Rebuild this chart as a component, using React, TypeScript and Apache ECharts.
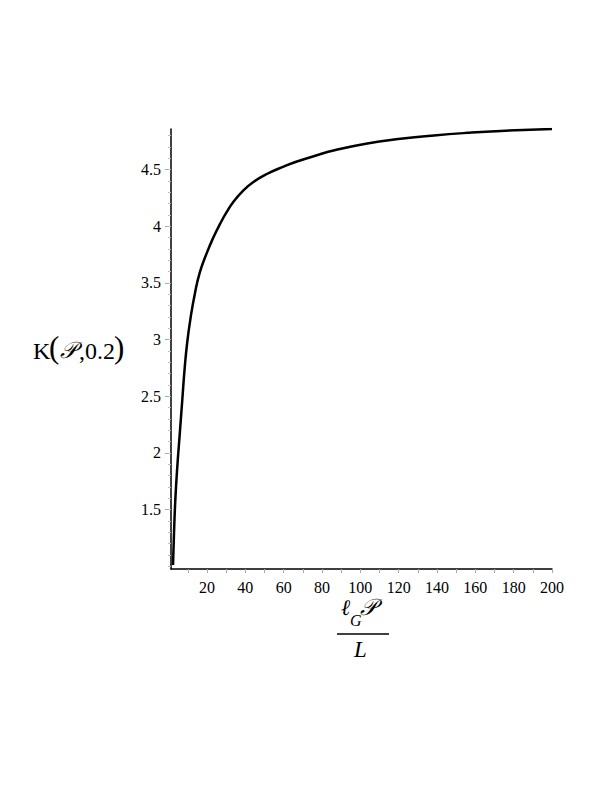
import React, { useEffect, useRef } from "react";
import * as echarts from "echarts";

// Curve K(P, 0.2)
const xValues = [2.25, 2.77, 3.44, 4.5, 5.74, 7.1, 8.35, 9.7, 11.5, 13.6, 16.2, 19.8, 23.3, 26.8, 30.3, 33.8, 39.0, 44.2, 51.2, 59.9, 66.9, 78.2, 86, 103.6, 121, 138.4, 155.9, 173.3, 200];
const kValues = [1.01, 1.29, 1.58, 1.88, 2.16, 2.47, 2.75, 2.98, 3.2, 3.4, 3.59, 3.76, 3.9, 4.02, 4.125, 4.215, 4.315, 4.39, 4.46, 4.525, 4.57, 4.63, 4.667, 4.73, 4.77, 4.8, 4.823, 4.84, 4.857];

const xTickLabels = [20, 40, 60, 80, 100, 120, 140, 160, 180, 200];
const xTickMarks = [10, 20, 30, 40, 50, 60, 70, 80, 90, 100, 110, 120, 130, 140, 150, 160, 170, 180, 190, 200];
const yTickLabels = [1.5, 2, 2.5, 3, 3.5, 4, 4.5];
const yMinorTicks = [1.0, 1.1, 1.2, 1.3, 1.4, 1.5, 1.6, 1.7, 1.8, 1.9, 2.0, 2.1, 2.2, 2.3, 2.4, 2.5, 2.6, 2.7, 2.8, 2.9, 3.0, 3.1, 3.2, 3.3, 3.4, 3.5, 3.6, 3.7, 3.8, 3.9, 4.0, 4.1, 4.2, 4.3, 4.4, 4.5, 4.6, 4.7, 4.8];

const SERIF = "'Liberation Serif', 'DejaVu Serif', serif";

export default function App() {
  const ref = useRef<HTMLDivElement>(null);
  useEffect(() => {
    if (!ref.current) return;
    const chart = echarts.init(ref.current, null, { renderer: "svg" });
    const data = xValues.map((x, i) => [x, kValues[i]]);
    chart.setOption({
      animation: false,
      backgroundColor: "#fff",
      grid: { left: 171, right: 58, top: 129, bottom: 221, containLabel: false },
      xAxis: {
        type: "value",
        min: 1.2,
        max: 200,
        axisLine: { show: true, onZero: false, lineStyle: { color: "#000", width: 1.5 } },
        axisTick: { show: true, customValues: xTickMarks, length: 4, lineStyle: { color: "#aaa" } },
        axisLabel: { customValues: xTickLabels, fontFamily: SERIF, fontSize: 16, color: "#000", margin: 10 },
        splitLine: { show: false },
      },
      yAxis: [
        {
          type: "value",
          min: 0.975,
          max: 4.857,
          position: "left",
          axisLine: { show: true, onZero: false, lineStyle: { color: "#000", width: 1.5 } },
          axisTick: { show: true, customValues: yTickLabels, length: 6, lineStyle: { color: "#aaa" } },
          axisLabel: { customValues: yTickLabels, fontFamily: SERIF, fontSize: 16, color: "#000", margin: 10 },
          splitLine: { show: false },
        },
        {
          type: "value",
          min: 0.975,
          max: 4.857,
          position: "left",
          offset: 0,
          axisLine: { show: false },
          axisTick: { show: true, customValues: yMinorTicks, length: 3, lineStyle: { color: "#bbb" } },
          axisLabel: { show: false },
          splitLine: { show: false },
        },
      ],
      series: [
        {
          type: "line",
          data,
          xAxisIndex: 0,
          yAxisIndex: 0,
          showSymbol: false,
          smooth: 0.5,
          lineStyle: { color: "#000", width: 2.5 },
        },
      ],
      graphic: [
        // y-axis title K(P,0.2)
        { type: "text", left: 33, top: 339, style: { text: "K", font: "24px " + SERIF, fill: "#000" } },
        { type: "text", left: 49, top: 332, style: { text: "(", font: "31px " + SERIF, fill: "#000" } },
        { type: "text", left: 60, top: 339, style: { text: "𝒫", font: "italic 23px " + SERIF, fill: "#000" } },
        { type: "text", left: 79, top: 339, style: { text: ",0.2", font: "24px " + SERIF, fill: "#000" } },
        { type: "text", left: 114, top: 332, style: { text: ")", font: "31px " + SERIF, fill: "#000" } },
        // x-axis title (ℓ_G 𝒫) / L
        { type: "text", left: 341, top: 596, style: { text: "ℓ", font: "italic 22px " + SERIF, fill: "#000" } },
        { type: "text", left: 350, top: 612, style: { text: "G", font: "italic 16px " + SERIF, fill: "#000" } },
        { type: "text", left: 360, top: 596, style: { text: "𝒫", font: "italic 23px " + SERIF, fill: "#000" } },
        { type: "line", shape: { x1: 337, y1: 634, x2: 389, y2: 634 }, style: { stroke: "#000", lineWidth: 1.5 } },
        { type: "text", left: 354, top: 638, style: { text: "L", font: "italic 23px " + SERIF, fill: "#000" } },
      ],
    });
    return () => chart.dispose();
  }, []);
  return (
    <div
      ref={ref}
      style={{ position: "fixed", left: 0, top: 0, width: 610, height: 790, background: "#fff" }}
    />
  );
}
